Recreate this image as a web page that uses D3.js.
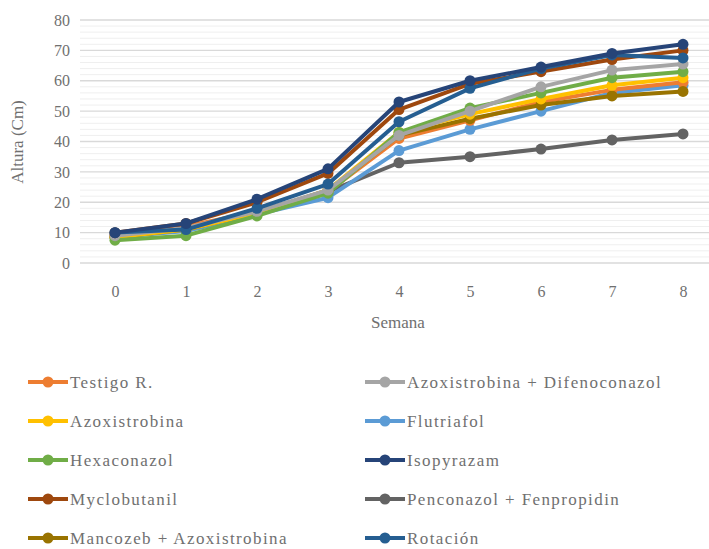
<!DOCTYPE html>
<html>
<head>
<meta charset="utf-8">
<script src="https://cdn.jsdelivr.net/npm/d3@7"></script>
<style>
  body { margin: 0; background: #fff; }
</style>
</head>
<body>
<div id="chart"></div>
<script>
// data
const semanas = [0, 1, 2, 3, 4, 5, 6, 7, 8];
const yTicks = [0, 10, 20, 30, 40, 50, 60, 70, 80];

const testigo      = [9.0, 12.0, 17.0, 23.5, 41.0, 47.0, 53.0, 57.0, 59.5];
const azoxDifeno   = [9.0, 11.5, 17.0, 24.0, 42.0, 50.0, 58.0, 63.5, 65.5];
const azoxistrobina= [8.5, 11.0, 16.5, 24.0, 43.0, 49.0, 54.0, 58.5, 61.0];
const flutriafol   = [8.5, 10.5, 16.0, 21.5, 37.0, 44.0, 50.0, 56.0, 58.5];
const hexaconazol  = [7.5, 9.0, 15.5, 23.0, 43.0, 51.0, 56.0, 61.0, 63.0];
const isopyrazam   = [10.0, 13.0, 21.0, 31.0, 53.0, 60.0, 64.5, 69.0, 72.0];
const myclobutanil = [10.0, 13.0, 20.0, 29.5, 50.5, 59.0, 63.0, 67.0, 70.0];
const penconazol   = [9.0, 11.5, 17.0, 23.5, 33.0, 35.0, 37.5, 40.5, 42.5];
const mancozeb     = [8.5, 11.0, 16.5, 24.0, 42.0, 47.5, 52.0, 55.0, 56.5];
const rotacion     = [10.0, 11.0, 18.0, 26.0, 46.5, 57.5, 64.0, 68.5, 67.5];

const seriesNames = ["Testigo R.", "Azoxistrobina + Difenoconazol", "Azoxistrobina", "Flutriafol",
  "Hexaconazol", "Isopyrazam", "Myclobutanil", "Penconazol + Fenpropidin",
  "Mancozeb + Azoxistrobina", "Rotación"];
const seriesValues = [testigo, azoxDifeno, azoxistrobina, flutriafol, hexaconazol,
  isopyrazam, myclobutanil, penconazol, mancozeb, rotacion];
const seriesColors = ["#ED7D31", "#A5A5A5", "#FFC000", "#5B9BD5", "#70AD47",
  "#264478", "#9E480E", "#636363", "#997300", "#255E91"];

// drawing order (back to front)
const drawOrder = [7, 3, 0, 8, 2, 4, 1, 6, 9, 5];

const width = 709, height = 549;
const serif = "'Liberation Serif', 'Tinos', 'DejaVu Serif', 'Times New Roman', serif";

const svg = d3.select("#chart")
  .append("svg")
  .attr("width", width)
  .attr("height", height);

const x = d3.scalePoint()
  .domain(semanas)
  .range([79.5, 718.5])
  .padding(0.5);

const y = d3.scaleLinear()
  .domain([0, 80])
  .range([263, 20]);

// minor gridlines
svg.append("g")
  .selectAll("line")
  .data(d3.range(0, 81, 2).filter(v => v % 10 !== 0))
  .enter()
  .append("line")
  .attr("x1", 80).attr("x2", width)
  .attr("y1", d => y(d)).attr("y2", d => y(d))
  .style("stroke", "#efefef")
  .style("stroke-width", 1);

// major gridlines
svg.append("g")
  .selectAll("line")
  .data(yTicks)
  .enter()
  .append("line")
  .attr("x1", 80).attr("x2", width)
  .attr("y1", d => y(d)).attr("y2", d => y(d))
  .style("stroke", "#d9d9d9")
  .style("stroke-width", 1.3);

// y axis labels
const yAxis = svg.append("g")
  .attr("transform", "translate(70,0)")
  .call(d3.axisLeft(y).tickValues(yTicks).tickSize(0).tickPadding(0));
yAxis.select(".domain").remove();
yAxis.attr("font-family", serif);
yAxis.selectAll("text")
  .style("font-family", serif)
  .style("font-size", "16px")
  .attr("text-anchor", "end")
  .attr("fill", "#707070");

// x axis labels
const xAxis = svg.append("g")
  .attr("transform", "translate(0,286)")
  .call(d3.axisBottom(x).tickSize(0).tickPadding(0));
xAxis.select(".domain").remove();
xAxis.attr("font-family", serif);
xAxis.selectAll("text")
  .style("font-family", serif)
  .style("font-size", "16px")
  .attr("fill", "#707070");

// axis titles
svg.append("text")
  .text("Altura (Cm)")
  .attr("transform", "translate(23,142) rotate(-90)")
  .style("text-anchor", "middle")
  .style("font-family", serif)
  .style("font-size", "17px")
  .style("fill", "#707070");

svg.append("text")
  .text("Semana")
  .attr("x", 398)
  .attr("y", 328)
  .style("text-anchor", "middle")
  .style("font-family", serif)
  .style("font-size", "17px")
  .style("fill", "#707070");

// lines and markers
const line = d3.line()
  .x((d, i) => x(semanas[i]))
  .y(d => y(d));

const seriesG = svg.append("g")
  .selectAll("g")
  .data(drawOrder)
  .enter()
  .append("g");

seriesG.append("path")
  .attr("d", k => line(seriesValues[k]))
  .style("fill", "none")
  .style("stroke", k => seriesColors[k])
  .style("stroke-width", 4)
  .style("stroke-linejoin", "round");

seriesG.selectAll("circle")
  .data(k => seriesValues[k].map((v, i) => ({ k: k, v: v, s: semanas[i] })))
  .enter()
  .append("circle")
  .attr("cx", d => x(d.s))
  .attr("cy", d => y(d.v))
  .attr("r", 5.5)
  .style("fill", d => seriesColors[d.k]);

// legend
const legend = svg.append("g")
  .selectAll("g")
  .data(seriesNames)
  .enter()
  .append("g")
  .attr("transform", (d, i) => {
    const col = i % 2, row = Math.floor(i / 2);
    return `translate(${col === 0 ? 28 : 365}, ${382 + row * 39})`;
  });

legend.append("line")
  .attr("x1", 0).attr("x2", 40)
  .attr("y1", 0).attr("y2", 0)
  .style("stroke", (d, i) => seriesColors[i])
  .style("stroke-width", 4);

legend.append("circle")
  .attr("cx", 20).attr("cy", 0).attr("r", 5.5)
  .style("fill", (d, i) => seriesColors[i]);

legend.append("text")
  .text(d => d)
  .attr("x", 42)
  .attr("y", 0)
  .attr("dy", "0.35em")
  .style("font-family", serif)
  .style("font-size", "17px")
  .style("letter-spacing", "1.4px")
  .style("fill", "#707070");
</script>
</body>
</html>
